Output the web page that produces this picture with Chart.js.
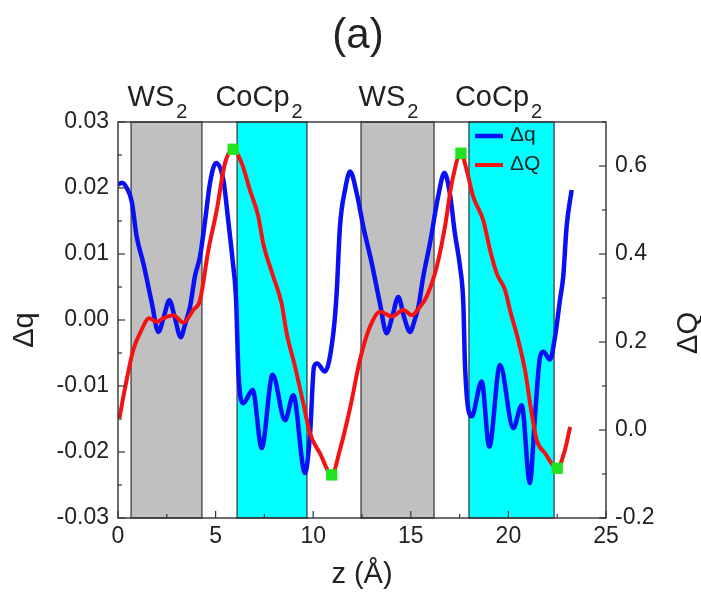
<!DOCTYPE html>
<html>
<head>
<meta charset="utf-8">
<script src="https://cdn.jsdelivr.net/npm/chart.js@4.4.1/dist/chart.umd.min.js"></script>
<style>body{margin:0;background:#fff}canvas{display:block}</style>
</head>
<body>
<canvas id="myChart" width="701" height="594"></canvas>
<script>
// values, z in Å
var dqZ = [0.0, 0.2, 0.45, 0.7, 0.96, 1.3, 1.73, 2.07, 2.35, 2.63, 2.9, 3.21, 3.45, 3.69, 3.94, 4.2, 4.46, 4.71, 5.02, 5.4, 5.65, 5.87, 6.05, 6.17, 6.42, 6.9, 7.36, 7.92, 8.56, 8.98, 9.58, 9.84, 10.04, 10.2, 10.6, 11.03, 11.2, 11.37, 11.63, 11.89, 12.23, 12.57, 13.0, 13.42, 13.76, 14.05, 14.36, 14.65, 14.96, 15.2, 15.39, 15.64, 15.98, 16.4, 16.72, 17.0, 17.26, 17.52, 17.69, 17.78, 18.12, 18.63, 19.02, 19.57, 20.25, 20.68, 21.1, 21.36, 21.62, 21.79, 22.13, 22.39, 22.64, 22.81, 22.98, 23.24];
var dqVal = [0.0205, 0.0208, 0.0200, 0.0180, 0.0126, 0.0086, 0.0026, -0.0018, 0.0005, 0.0030, 0.0005, -0.0026, -0.0005, 0.0020, 0.0066, 0.0096, 0.0150, 0.0207, 0.0238, 0.0212, 0.0150, 0.0091, 0.0030, -0.0080, -0.0126, -0.0106, -0.0194, -0.0083, -0.0152, -0.0114, -0.0232, -0.0172, -0.0071, -0.0066, -0.0078, -0.0020, 0.0040, 0.0141, 0.0197, 0.0225, 0.0192, 0.0141, 0.0086, 0.0025, -0.0020, 0.0005, 0.0035, 0.0005, -0.0018, 0.0000, 0.0020, 0.0066, 0.0116, 0.0187, 0.0223, 0.0192, 0.0131, 0.0081, 0.0026, -0.0071, -0.0146, -0.0093, -0.0192, -0.0068, -0.0164, -0.0129, -0.0247, -0.0147, -0.0056, -0.0048, -0.0060, -0.0025, 0.0030, 0.0066, 0.0141, 0.0197];
var dQZ = [0.07, 0.36, 0.78, 1.13, 1.6, 1.98, 2.32, 2.83, 3.35, 3.86, 4.2, 4.63, 5.06, 5.48, 5.9, 6.34, 6.76, 7.19, 7.44, 7.96, 8.38, 8.64, 9.07, 9.49, 9.84, 10.35, 10.95, 11.37, 11.89, 12.4, 12.91, 13.42, 14.02, 14.62, 15.05, 15.47, 15.81, 16.33, 16.75, 17.1, 17.57, 17.86, 18.2, 18.71, 19.06, 19.4, 19.83, 20.08, 20.5, 20.85, 21.19, 21.45, 21.88, 22.5, 22.9, 23.16];
var dQVal = [0.027, 0.095, 0.182, 0.22, 0.254, 0.246, 0.254, 0.261, 0.244, 0.273, 0.295, 0.409, 0.50, 0.606, 0.638, 0.606, 0.545, 0.485, 0.424, 0.348, 0.288, 0.22, 0.144, 0.061, -0.008, -0.053, -0.102, -0.045, 0.05, 0.16, 0.235, 0.269, 0.258, 0.273, 0.261, 0.28, 0.303, 0.371, 0.462, 0.561, 0.629, 0.591, 0.53, 0.477, 0.409, 0.356, 0.318, 0.273, 0.205, 0.136, 0.038, -0.023, -0.053, -0.087, -0.045, 0.007];
var extremaZ = [5.9, 10.95, 17.57, 22.5];
var extremaVal = [0.638, -0.102, 0.629, -0.087];

var regionStart = [0.67, 6.1, 12.45, 17.98];
var regionEnd = [4.3, 9.68, 16.19, 22.34];
var regionName = ['WS', 'CoCp', 'WS', 'CoCp'];
var regionSub = ['2', '2', '2', '2'];

var xTicks = [0, 5, 10, 15, 20, 25];
var dqTicks = [-0.03, -0.02, -0.01, 0, 0.01, 0.02, 0.03];
var dQTicks = [-0.2, 0, 0.2, 0.4, 0.6];

var FONT = '"Liberation Sans", Arial, sans-serif';
var INK = '#222';
var regionFill = { WS: '#c0c0c0', CoCp: '#00ffff' };
var labelShift = { WS: -9, CoCp: -13 };

function pts(zs, vs) {
    return zs.map(function (z, i) { return { x: z, y: vs[i] }; });
}
function setTicks(arr) {
    return function (s) { s.ticks = arr.map(function (v) { return { value: v }; }); };
}
function fmt(d) {
    return function (v) { return (Math.abs(v) < 1e-9 ? 0 : v).toFixed(d); };
}

function drawTicks(ctx, scale, vals, horizontal, side, a) {
    var step = vals[1] - vals[0];
    var marks = [];
    vals.forEach(function (v) { marks.push([v, 7]); });
    for (var v = scale.min + step / 2; v < scale.max + 1e-9; v += step / 2) {
        var isMajor = vals.some(function (m) { return Math.abs(m - v) < step / 10; });
        if (!isMajor) marks.push([v, 4]);
    }
    marks.forEach(function (m) {
        var p = scale.getPixelForValue(m[0]);
        ctx.beginPath();
        if (horizontal) {
            ctx.moveTo(p, a.bottom); ctx.lineTo(p, a.bottom - m[1]);
        } else if (side === 'left') {
            ctx.moveTo(a.left, p); ctx.lineTo(a.left + m[1], p);
        } else {
            ctx.moveTo(a.right, p); ctx.lineTo(a.right - m[1], p);
        }
        ctx.stroke();
    });
}

var decor = {
    id: 'decor',
    beforeDatasetsDraw: function (chart) {
        var ctx = chart.ctx, a = chart.chartArea, x = chart.scales.x;
        ctx.save();
        for (var i = 0; i < regionStart.length; i++) {
            var x0 = x.getPixelForValue(regionStart[i]);
            var x1 = x.getPixelForValue(regionEnd[i]);
            ctx.fillStyle = regionFill[regionName[i]];
            ctx.fillRect(x0, a.top, x1 - x0, a.bottom - a.top);
            ctx.strokeStyle = '#333';
            ctx.lineWidth = 1.2;
            ctx.strokeRect(x0, a.top, x1 - x0, a.bottom - a.top);
        }
        ctx.restore();
    },
    afterDatasetsDraw: function (chart) {
        var ctx = chart.ctx, a = chart.chartArea, s = chart.scales;
        ctx.save();
        // frame and inward ticks
        ctx.strokeStyle = '#333';
        ctx.lineWidth = 1.4;
        ctx.strokeRect(a.left, a.top, a.right - a.left, a.bottom - a.top);
        ctx.lineWidth = 1.2;
        drawTicks(ctx, s.x, xTicks, true, 'bottom', a);
        drawTicks(ctx, s.y, dqTicks, false, 'left', a);
        drawTicks(ctx, s.y1, dQTicks, false, 'right', a);

        // legend
        var lx = a.right - 131;
        var ds = chart.data.datasets;
        [0, 1].forEach(function (k, j) {
            var ly = a.top + 14 + j * 29;
            ctx.strokeStyle = ds[k].borderColor;
            ctx.lineWidth = ds[k].borderWidth;
            ctx.beginPath(); ctx.moveTo(lx, ly); ctx.lineTo(lx + 28, ly); ctx.stroke();
            ctx.fillStyle = INK;
            ctx.font = '21px ' + FONT;
            ctx.textAlign = 'left';
            ctx.textBaseline = 'middle';
            ctx.fillText(ds[k].label, lx + 35, ly - 1);
        });

        // region labels above the frame
        ctx.fillStyle = INK;
        ctx.textBaseline = 'alphabetic';
        for (var i = 0; i < regionName.length; i++) {
            ctx.font = '29px ' + FONT;
            var wMain = ctx.measureText(regionName[i]).width;
            ctx.font = '20px ' + FONT;
            var wSub = ctx.measureText(regionSub[i]).width;
            var c = (s.x.getPixelForValue(regionStart[i]) + s.x.getPixelForValue(regionEnd[i])) / 2 + labelShift[regionName[i]];
            var left = c - (wMain + 2 + wSub) / 2;
            ctx.font = '29px ' + FONT;
            ctx.textAlign = 'left';
            ctx.fillText(regionName[i], left, 106);
            ctx.font = '20px ' + FONT;
            ctx.fillText(regionSub[i], left + wMain + 2, 118);
        }

        // title and axis titles
        ctx.textAlign = 'center';
        ctx.font = '42px ' + FONT;
        ctx.fillText('(a)', 358, 48);
        ctx.font = '29px ' + FONT;
        ctx.fillText('z (Å)', 362, 583);
        ctx.save();
        ctx.translate(33, 330); ctx.rotate(-Math.PI / 2);
        ctx.fillText('Δq', 0, 0);
        ctx.restore();
        ctx.save();
        ctx.translate(697, 333); ctx.rotate(-Math.PI / 2);
        ctx.fillText('ΔQ', 0, 0);
        ctx.restore();
        ctx.restore();
    }
};

var tickFont = { family: FONT, size: 23 };
var ctx = document.getElementById('myChart').getContext('2d');
var myChart = new Chart(ctx, {
    type: 'line',
    data: {
        datasets: [{
            label: 'Δq',
            data: pts(dqZ, dqVal),
            yAxisID: 'y',
            borderColor: '#0a10f5',
            borderWidth: 4.5,
            pointRadius: 0,
            cubicInterpolationMode: 'monotone',
            order: 3
        }, {
            label: 'ΔQ',
            data: pts(dQZ, dQVal),
            yAxisID: 'y1',
            borderColor: '#f51212',
            borderWidth: 4,
            pointRadius: 0,
            cubicInterpolationMode: 'monotone',
            order: 2
        }, {
            label: 'extrema',
            data: pts(extremaZ, extremaVal),
            yAxisID: 'y1',
            showLine: false,
            pointStyle: 'rect',
            pointRadius: 8,
            pointBackgroundColor: '#22e022',
            pointBorderWidth: 0,
            order: 1
        }]
    },
    options: {
        responsive: false,
        animation: false,
        devicePixelRatio: 1,
        layout: { padding: { top: 122, left: 0, right: 0, bottom: 0 } },
        plugins: { legend: { display: false }, tooltip: { enabled: false } },
        scales: {
            x: {
                type: 'linear', min: 0, max: 25,
                afterBuildTicks: setTicks(xTicks),
                afterFit: function (s) { s.height = 76; },
                grid: { display: false, drawTicks: false },
                border: { display: false },
                ticks: { padding: 5, font: tickFont, color: INK, maxRotation: 0, autoSkip: false }
            },
            y: {
                position: 'left', min: -0.03, max: 0.03,
                afterBuildTicks: setTicks(dqTicks),
                afterFit: function (s) { s.width = 118; },
                grid: { display: false, drawTicks: false },
                border: { display: false },
                ticks: { padding: 9, font: tickFont, color: INK, autoSkip: false, callback: fmt(2) }
            },
            y1: {
                position: 'right', min: -0.2, max: 0.7,
                afterBuildTicks: setTicks(dQTicks),
                afterFit: function (s) { s.width = 95; },
                grid: { display: false, drawTicks: false },
                border: { display: false },
                ticks: { padding: 9, font: tickFont, color: INK, autoSkip: false, callback: fmt(1) }
            }
        }
    },
    plugins: [decor]
});
</script>
</body>
</html>
